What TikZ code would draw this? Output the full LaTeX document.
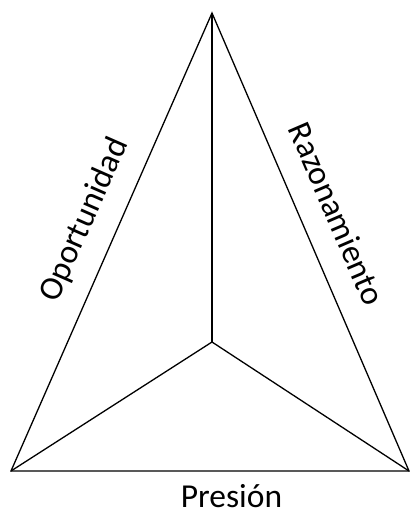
\documentclass[tikz,border=0pt]{standalone}
\usepackage{fontspec}
\setmainfont{Carlito}
\begin{document}
\begin{tikzpicture}[x=1pt,y=-1pt,
  edge/.style={draw=black,line width=1.3pt,line join=miter},
  lbl/.style={font=\fontsize{33.5}{40}\selectfont,inner sep=0pt,anchor=base,text=black}]
\useasboundingbox (0,0) rectangle (411,511);
\coordinate (A) at (212,13);
\coordinate (BL) at (11,471);
\coordinate (BR) at (409,471);
\coordinate (C) at (212,342);
\draw[edge] (A) -- (BL) -- (BR) -- cycle;
\draw[edge] (A) -- (C);
\draw[edge] (C) -- (BL);
\draw[edge] (C) -- (BR);
\node[lbl,rotate=66.2] (op) at (93,223.5) {Oportunidad};
\node[lbl,rotate=-66.7] (ra) at (326.5,218.4) {Razonamiento};
\node[lbl] (pr) at (231.5,507.5) {Presión};
\end{tikzpicture}
\end{document}
